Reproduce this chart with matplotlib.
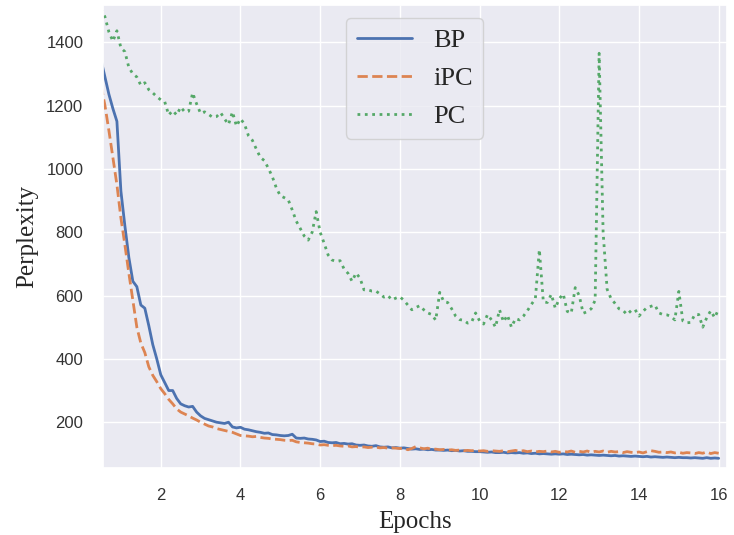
import numpy as np
import matplotlib
matplotlib.use("Agg")
import matplotlib.pyplot as plt
import seaborn as sns

epochs = np.round(np.arange(0.5, 16.01, 0.1), 2)

bp = [1345, 1290, 1235, 1190, 1150, 930, 820, 720, 645, 628,
      570, 560, 505, 445, 400, 350, 325, 300, 300, 275,
      258, 252, 248, 250, 232, 220, 212, 208, 204, 200,
      198, 196, 200, 185, 182, 184, 178, 176, 173, 170,
      168, 165, 166, 161, 160, 158, 157, 158, 162, 150,
      149, 150, 147, 146, 144, 139, 140, 136, 135, 136,
      132, 133, 131, 132, 128, 127, 128, 125, 124, 126,
      122, 121, 122, 119, 120, 118, 119, 117, 115, 116,
      114, 115, 113, 114, 112, 112, 111, 112, 110, 111,
      109, 110, 108, 108, 107, 107, 106, 105, 106, 104,
      104, 105, 103, 104, 103, 104, 102, 103, 101, 102,
      100, 101, 100, 99, 100, 99, 100, 98, 99, 98,
      97, 98, 96, 97, 96, 95, 96, 95, 94, 95,
      93, 94, 93, 92, 93, 92, 91, 92, 90, 91,
      90, 89, 90, 89, 88, 89, 88, 88, 87, 88,
      87, 86, 88, 86, 87, 86]

ipc = [1265, 1200, 1120, 1035, 950, 845, 760, 670, 585, 500,
       450, 420, 375, 348, 328, 306, 290, 272, 258, 242,
       232, 226, 220, 213, 207, 200, 194, 188, 185, 180,
       177, 174, 171, 168, 163, 158, 157, 156, 154, 155,
       152, 150, 149, 147, 146, 145, 143, 142, 143, 138,
       136, 135, 134, 132, 131, 128, 129, 127, 126, 127,
       125, 124, 125, 122, 123, 121, 122, 120, 121, 121,
       119, 120, 118, 119, 118, 117, 118, 113, 117, 123,
       119, 116, 118, 114, 115, 113, 114, 112, 113, 111,
       112, 110, 111, 110, 111, 109, 110, 108, 110, 109,
       108, 110, 107, 109, 111, 108, 110, 107, 109, 106,
       108, 107, 109, 106, 108, 105, 108, 106, 109, 105,
       108, 106, 109, 105, 108, 106, 109, 105, 108, 106,
       107, 104, 107, 105, 104, 106, 103, 107, 110, 108,
       105, 106, 104, 106, 103, 105, 102, 104, 103, 101,
       104, 102, 106, 101, 104, 102]

pc = [1505, 1480, 1432, 1403, 1436, 1382, 1370, 1320, 1300, 1290,
      1264, 1272, 1250, 1240, 1228, 1218, 1212, 1170, 1184, 1170,
      1195, 1180, 1182, 1240, 1205, 1175, 1180, 1172, 1163, 1165,
      1178, 1158, 1140, 1180, 1135, 1158, 1142, 1105, 1090, 1062,
      1036, 1026, 1002, 975, 940, 915, 909, 902, 870, 835,
      812, 788, 775, 800, 865, 800, 765, 728, 712, 708,
      710, 684, 670, 645, 671, 655, 618, 618, 614, 614,
      605, 595, 600, 586, 592, 596, 585, 570, 555, 562,
      568, 555, 545, 540, 522, 610, 581, 578, 558, 535,
      524, 522, 513, 516, 545, 520, 510, 540, 523, 500,
      555, 517, 538, 500, 527, 523, 535, 552, 572, 590,
      745, 580, 578, 604, 560, 590, 605, 550, 544, 625,
      600, 544, 549, 558, 585, 1365, 800, 620, 590, 575,
      558, 553, 540, 552, 556, 535, 550, 562, 566, 570,
      545, 540, 539, 534, 523, 613, 520, 514, 515, 540,
      540, 500, 530, 552, 530, 558]

series_names = ["BP", "iPC", "PC"]

sns.set_theme(style="darkgrid")
plt.rcParams['font.family'] = ['Liberation Sans', 'DejaVu Sans']

fig = plt.figure(figsize=(7.34, 5.35), dpi=100)
ax = fig.add_axes([0.140, 0.125, 0.850, 0.866])

ax.plot(epochs, bp, color="#4C72B0", lw=2.0, ls="-", label=series_names[0])
ax.plot(epochs, ipc, color="#DD8452", lw=2.0, ls="--", label=series_names[1])
ax.plot(epochs, pc, color="#55A868", lw=2.0, ls=":", label=series_names[2])

ax.set_xlim(0.545, 16.2)
ax.set_ylim(55, 1518)
ax.set_xticks([2, 4, 6, 8, 10, 12, 14, 16])
ax.set_yticks([200, 400, 600, 800, 1000, 1200, 1400])
ax.tick_params(axis='both', labelsize=12, colors="#333333", pad=8)

serif = ['Liberation Serif', 'DejaVu Serif']
ax.set_xlabel("Epochs", fontsize=18, family=serif, color="#262626", labelpad=6)
ax.set_ylabel("Perplexity", fontsize=18, family=serif, color="#262626", labelpad=6)

leg = ax.legend(loc="upper center", prop={'family': serif, 'size': 19},
                labelspacing=0.55, handlelength=2.1)

fig.savefig("out.png", dpi=100)
